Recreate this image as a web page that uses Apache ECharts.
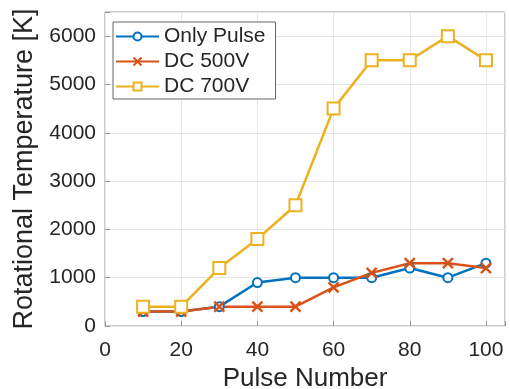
<!DOCTYPE html>
<html>
<head>
<meta charset="utf-8">
<script src="https://cdn.jsdelivr.net/npm/echarts@6/dist/echarts.min.js"></script>
<style>
  html, body { margin: 0; padding: 0; background: #fff; }
  #chart { width: 510px; height: 389px; }
</style>
</head>
<body>
<div id="chart"></div>
<script>
var pulseNumbers = [10, 20, 30, 40, 50, 60, 70, 80, 90, 100];
var onlyPulse = [300, 300, 400, 900, 1000, 1000, 1000, 1200, 1000, 1300];
var dc500 = [300, 300, 400, 400, 400, 800, 1100, 1300, 1300, 1200];
var dc700 = [400, 400, 1200, 1800, 2500, 4500, 5500, 5500, 6000, 5500];
var seriesNames = ['Only Pulse', 'DC 500V', 'DC 700V'];
var colors = ['#0072BD', '#D95319', '#EDB120'];

function pairs(ys) {
  return pulseNumbers.map(function (x, i) { return [x, ys[i]]; });
}

var font = '"Liberation Sans", Arial, sans-serif';
var crossPath = 'path://M0,0L10,10M10,0L0,10';

var chart = echarts.init(document.getElementById('chart'));

var option = {
  animation: false,
  textStyle: { fontFamily: font },
  grid: {
    left: 105, right: 5, top: 12, bottom: 63,
    outerBoundsMode: 'none',
    show: true, borderColor: '#999', borderWidth: 1
  },
  legend: {
    orient: 'vertical',
    left: 113, top: 22,
    backgroundColor: '#fff',
    borderColor: '#666', borderWidth: 1,
    padding: [4, 10, 2, 2],
    itemWidth: 43, itemHeight: 10, itemGap: 4,
    textStyle: { fontSize: 21, color: '#262626', fontFamily: font },
    data: seriesNames
  },
  xAxis: {
    type: 'value',
    min: 0, max: 105, interval: 20,
    name: 'Pulse Number',
    nameLocation: 'middle', nameGap: 38,
    nameTextStyle: { fontSize: 26, color: '#262626' },
    axisLine: { show: false },
    axisTick: { inside: true, length: 5, lineStyle: { color: '#999' } },
    axisLabel: {
      fontSize: 21, color: '#262626', margin: 14,
      formatter: function (v) { return v % 20 === 0 ? String(v) : ''; }
    },
    splitLine: { show: true, lineStyle: { color: '#e6e6e6' } }
  },
  yAxis: {
    type: 'value',
    min: 0, max: 6500, interval: 1000,
    name: 'Rotational Temperature [K]',
    nameLocation: 'middle', nameGap: 65,
    nameTextStyle: { fontSize: 27, color: '#262626' },
    axisLine: { show: false },
    axisTick: { inside: true, length: 5, lineStyle: { color: '#999' } },
    axisLabel: {
      fontSize: 21, color: '#262626', margin: 9,
      formatter: function (v) { return v % 1000 === 0 ? String(v) : ''; }
    },
    splitLine: { show: true, lineStyle: { color: '#e6e6e6' } }
  },
  series: [
    {
      name: seriesNames[0], type: 'line', data: pairs(onlyPulse),
      symbol: 'emptyCircle', symbolSize: 9,
      lineStyle: { color: colors[0], width: 2.5 },
      itemStyle: { color: colors[0], borderWidth: 2 }
    },
    {
      name: seriesNames[1], type: 'line', data: pairs(dc500),
      symbol: crossPath, symbolSize: 10,
      lineStyle: { color: colors[1], width: 2.5 },
      itemStyle: { color: 'none', borderColor: colors[1], borderWidth: 2.5 }
    },
    {
      name: seriesNames[2], type: 'line', data: pairs(dc700),
      symbol: 'emptyRect', symbolSize: 12,
      lineStyle: { color: colors[2], width: 2.5 },
      itemStyle: { color: colors[2], borderWidth: 2 }
    }
  ]
};

chart.setOption(option);
</script>
</body>
</html>
